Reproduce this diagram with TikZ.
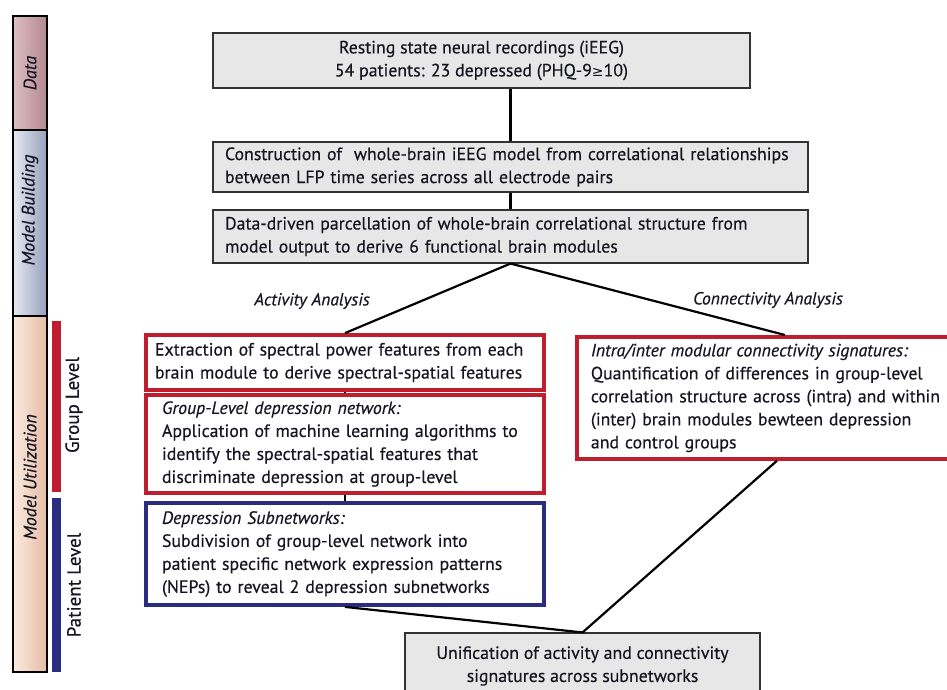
\documentclass[tikz,border=0pt]{standalone}
\usepackage{fontspec}
\setmainfont{PT Sans}[UprightFeatures={FakeBold=0.4}, ItalicFeatures={FakeBold=0.4}]
\newfontfamily\symbolfont{DejaVu Sans}
\usepackage{tikz}
\usetikzlibrary{calc}

\definecolor{grpred}{RGB}{190,30,45}
\definecolor{patblue}{RGB}{42,44,128}
\definecolor{boxgray}{RGB}{231,231,231}
\definecolor{inkblue}{RGB}{22,22,34}

\begin{document}
\begin{tikzpicture}[x=1pt, y=-1pt, link/.style = { line width=2.2pt }]
  \tikzset{every node/.style={font=\fontsize{17.8}{23}\selectfont, text=inkblue},
    graybox/.style={draw=black!80, fill=boxgray, line width=1.1pt, inner xsep=12pt},
    redbox/.style={draw=grpred, line width=3.8pt, fill=white, align=left},
    bluebox/.style={draw=patblue, line width=3.8pt, fill=white, align=left},
    side/.style={font=\itshape\fontsize{18}{20}\selectfont, rotate=90}}
  \useasboundingbox (0,0) rectangle (947,690);

  % side bar
  \shade[left color={rgb,255:red,222;green,190;blue,194}, right color={rgb,255:red,180;green,136;blue,143}] (13,16) rectangle (47,130);
  \shade[left color={rgb,255:red,230;green,233;blue,241}, right color={rgb,255:red,150;green,160;blue,190}] (13,130) rectangle (47,316);
  \shade[left color={rgb,255:red,252;green,234;blue,222}, right color={rgb,255:red,230;green,188;blue,165}] (13,316) rectangle (47,672);
  \draw[line width=1.3pt] (13,16) rectangle (47,672) (13,130) -- (47,130) (13,316) -- (47,316);
  \node[side] (data) at (30,73) {Data};
  \node[side] (building) at (30,210) {Model Building};
  \node[side] (utilization) at (30,477) {Model Utilization};
  \fill[grpred] (52,321) rectangle (61,492);
  \fill[patblue] (52,498) rectangle (61,672);
  \node[rotate=90, font=\fontsize{19}{21}\selectfont] (group) at (74,405) {Group Level};
  \node[rotate=90, font=\fontsize{19}{21}\selectfont] (patient) at (74,585) {Patient Level};

  % flow
  \node[graybox, align=center, minimum width=537, minimum height=55] (rec) at (481.5,60.5)
    {Resting state neural recordings (iEEG)\\54 patients: 23 depressed (PHQ-9{\symbolfont\fontsize{14}{16}\selectfont ≥}10)};
  \node[graybox, align=left, text width=571, minimum height=50] (build) at (510.5,167)
    {Construction of~ whole-brain iEEG model from correlational relationships\\between LFP time series across all electrode pairs};
  \node[graybox, align=left, text width=571, minimum height=53] (parcel) at (510.5,236.5)
    {Data-driven parcellation of whole-brain correlational structure from\\model output to derive 6 functional brain modules};
  \node[redbox, inner xsep=9pt, text width=380, minimum height=55] (extract) at (345,362.5)
    {Extraction of spectral power features from each\\brain module to derive spectral-spatial features};
  \node[redbox, inner xsep=16pt, text width=366, minimum height=98] (glnet) at (345,444)
    {\textit{Group-Level depression network:}\\Application of machine learning algorithms to\\identify the spectral-spatial features that\\discriminate depression at group-level};
  \node[bluebox, inner xsep=16pt, text width=366, minimum height=102] (subnet) at (345,554)
    {\textit{Depression Subnetworks:}\\Subdivision of group-level network into\\patient specific network expression patterns\\(NEPs) to reveal 2 depression subnetworks};
  \node[redbox, anchor=north west, inner xsep=14pt, text width=372, minimum height=122] (modular) at (575,335)
    {\textit{Intra/inter modular connectivity signatures:}\\Quantification of differences in group-level\\correlation structure across (intra) and within\\(inter) brain modules bewteen depression\\and control groups};
  \node[graybox, align=center, minimum width=355, minimum height=66] (unify) at (582.5,666)
    {Unification of activity and connectivity\\signatures across subnetworks};
  \node[font=\itshape\fontsize{17.5}{19}\selectfont] (activity) at (312,301) {Activity Analysis};
  \node[font=\itshape\fontsize{17.5}{19}\selectfont] (connectivity) at (768,300) {Connectivity Analysis};

  \path
    (build.north) edge [link] (build.north |- rec.south)
    (build) edge [link] (parcel)
    (parcel.south) edge [link] (extract.north)
    (parcel.south) edge [link] ([xshift=8pt]modular.north)
    (extract) edge [link] (glnet)
    (glnet) edge [link] (subnet)
    (subnet.south) edge [link] (unify.north)
    (modular.south) edge [link] (unify.north);
\end{tikzpicture}
\end{document}
